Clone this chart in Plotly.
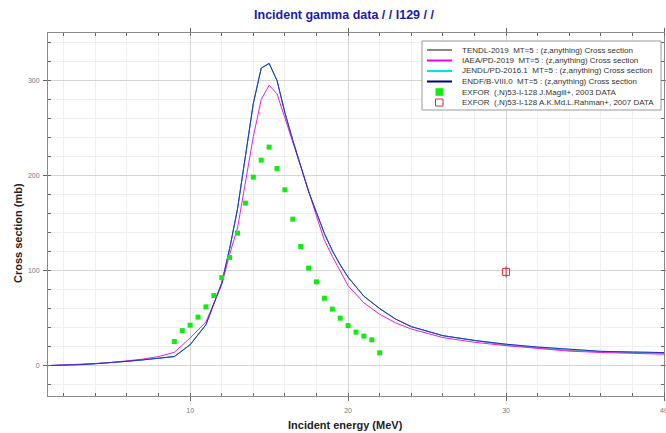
import plotly.graph_objects as go

# ---------------- data ----------------
endf_e = [1, 2, 3, 4, 5, 6, 7, 8, 9, 10, 11, 12, 12.5, 13, 13.5, 14, 14.5, 15, 15.5, 16,
          16.5, 17, 17.5, 18, 18.5, 19, 19.5, 20, 21, 22, 23, 24, 26, 28, 30, 32, 34, 36, 38, 40]
endf_xs = [0, 0.3, 1, 2, 3, 4.5, 6, 7.5, 9.5, 22, 43, 87, 123, 165, 222, 276, 313, 318, 300, 266,
           237, 209, 183, 161, 139, 121, 106, 93, 73, 60, 49, 41, 31.5, 26.5, 22.5, 19.5, 17, 15, 14.3, 13.7]

iaea_e = [1, 2, 3, 4, 5, 6, 7, 8, 9, 10, 11, 12, 12.5, 13, 13.5, 14, 14.5, 15, 15.5, 16,
          16.5, 17, 17.5, 18, 18.5, 19, 19.5, 20, 21, 22, 23, 24, 26, 28, 30, 32, 34, 36, 38, 40]
iaea_xs = [0, 0.5, 1.2, 2.2, 3.3, 4.8, 6.8, 9.5, 14, 29, 46, 85, 117, 145, 192, 241, 280, 295, 286, 261,
           236, 210, 184, 157, 132, 115, 99, 84, 66, 54, 45, 38.5, 29.5, 24.5, 21, 18, 15.2, 13.8, 12.8, 12]

tendl_e = [1, 2, 3, 4, 5, 6, 7, 8, 9, 10, 11, 12, 12.5, 13, 13.5, 14, 14.5, 15, 15.5, 16,
           16.5, 17, 17.5, 18, 18.5, 19, 19.5, 20, 21, 22, 23, 24, 26, 28, 30, 32, 34, 36, 38, 40]
tendl_xs = [0, 0.3, 1, 2, 3, 4.5, 6, 7.5, 9.5, 22, 43, 87, 123, 165, 222, 276, 313, 318, 300, 266,
            237, 209, 183, 161, 139, 121, 106, 93, 73, 60, 49, 41, 31.5, 26.5, 21.5, 18.5, 16, 14.5, 13.5, 12.8]

jendl_e = endf_e
jendl_xs = endf_xs

magill_e = [9, 9.5, 10, 10.5, 11, 11.5, 12, 12.5, 13, 13.5, 14, 14.5, 15, 15.5,
            16, 16.5, 17, 17.5, 18, 18.5, 19, 19.5, 20, 20.5, 21, 21.5, 22]
magill_xs = [25.3, 36.8, 42.5, 51, 61.8, 73.7, 92.6, 113.7, 139.4, 171, 198.3, 216.2, 229.9, 207.4,
             185, 154.1, 125.3, 102.6, 88.1, 70.9, 59.4, 49.9, 42.1, 35.2, 31, 27.1, 13.4]

rahman_e = [30]
rahman_xs = [98.6]
rahman_err = [6]

legend_labels = [
    "TENDL-2019  MT=5 : (z,anything) Cross section",
    "IAEA/PD-2019  MT=5 : (z,anything) Cross section",
    "JENDL/PD-2016.1  MT=5 : (z,anything) Cross section",
    "ENDF/B-VIII.0  MT=5 : (z,anything) Cross section",
    "EXFOR  (,N)53-I-128 J.Magill+, 2003 DATA",
    "EXFOR  (,N)53-I-128 A.K.Md.L.Rahman+, 2007 DATA",
]

# ---------------- layout geometry ----------------
W, H = 666, 433
ML, MR, MT, MB = 48, 2, 33, 37
FONT = "Arial, Liberation Sans, sans-serif"


def px(x):
    return (x - ML) / (W - ML - MR)


def py(y):
    return (H - MB - y) / (H - MT - MB)


fig = go.Figure()

fig.add_trace(go.Scatter(x=tendl_e, y=tendl_xs, mode="lines",
                         line=dict(color="#888888", width=1), name=legend_labels[0]))
fig.add_trace(go.Scatter(x=jendl_e, y=jendl_xs, mode="lines",
                         line=dict(color="#00e5e5", width=1), name=legend_labels[2]))
fig.add_trace(go.Scatter(x=iaea_e, y=iaea_xs, mode="lines",
                         line=dict(color="#e61ee6", width=1), name=legend_labels[1]))
fig.add_trace(go.Scatter(x=endf_e, y=endf_xs, mode="lines",
                         line=dict(color="#2e2eb8", width=1), name=legend_labels[3]))
fig.add_trace(go.Scatter(x=magill_e, y=magill_xs, mode="markers",
                         marker=dict(symbol="square", size=5, color="#10ec10"),
                         name=legend_labels[4]))
fig.add_trace(go.Scatter(x=rahman_e, y=rahman_xs, mode="markers",
                         marker=dict(symbol="square-open", size=7, color="#d83030",
                                     line=dict(width=1)),
                         error_y=dict(type="data", array=rahman_err, color="#d83030",
                                      thickness=1, width=0),
                         name=legend_labels[5]))

# ---------------- custom legend ----------------
shapes = []
annotations = []
bx0, bx1, by0, by1 = 422, 661, 41, 110
shapes.append(dict(type="rect", xref="paper", yref="paper",
                   x0=px(bx0), x1=px(bx1), y0=py(by1), y1=py(by0),
                   line=dict(color="#999999", width=1), fillcolor="white", layer="above"))
rows = [50, 60.5, 71, 81.5, 92, 102.5]
line_cols = ["#888888", "#ee00ee", "#00e5e5", "#000080"]
for i, c in enumerate(line_cols):
    shapes.append(dict(type="line", xref="paper", yref="paper",
                       x0=px(427), x1=px(452), y0=py(rows[i]), y1=py(rows[i]),
                       line=dict(color=c, width=2), layer="above"))
shapes.append(dict(type="rect", xref="paper", yref="paper",
                   x0=px(435.5), x1=px(443), y0=py(rows[4] + 3.8), y1=py(rows[4] - 3.8),
                   line=dict(color="#10ec10", width=0), fillcolor="#10ec10", layer="above"))
shapes.append(dict(type="rect", xref="paper", yref="paper",
                   x0=px(435.5), x1=px(443), y0=py(rows[5] + 3.5), y1=py(rows[5] - 3.5),
                   line=dict(color="#d83030", width=1), fillcolor="white", layer="above"))
for i, lab in enumerate(legend_labels):
    annotations.append(dict(text=lab, xref="paper", yref="paper", x=px(460), y=py(rows[i]),
                            xanchor="left", yanchor="middle", showarrow=False,
                            font=dict(family=FONT, size=8, color="#333333")))

# axis titles
annotations.append(dict(text="<b>Incident energy (MeV)</b>", xref="paper", yref="paper",
                        x=px(345), y=py(425), xanchor="center", yanchor="middle",
                        showarrow=False, font=dict(family=FONT, size=11, color="#222222")))
annotations.append(dict(text="<b>Cross section (mb)</b>", xref="paper", yref="paper",
                        x=px(18), y=py(233), xanchor="center", yanchor="middle",
                        textangle=-90, showarrow=False,
                        font=dict(family=FONT, size=11, color="#222222")))

axis_common = dict(
    showline=True, linecolor="#8a8a8a", linewidth=1, mirror="allticks",
    ticks="outside", ticklen=4, tickcolor="#666666",
    showgrid=True, gridcolor="#d4d4d4", gridwidth=1,
    zeroline=False, ticklabeloverflow="allow",
    tickfont=dict(family=FONT, size=7, color="#777777"),
)

fig.update_layout(
    width=W, height=H,
    margin=dict(l=ML, r=MR, t=MT, b=MB, autoexpand=False),
    paper_bgcolor="white", plot_bgcolor="white",
    showlegend=False,
    title=dict(text="<b>Incident gamma data / / I129 / /</b>", x=344 / W, xref="container",
               xanchor="center", y=1 - 15 / H, yanchor="middle",
               font=dict(family=FONT, size=12.5, color="#1c1ca8")),
    xaxis=dict(range=[1, 40], tickvals=[10, 20, 30, 40], ticklabelstandoff=4,
               minor=dict(dtick=2, tick0=0, ticks="inside", ticklen=3, tickcolor="#666666",
                          showgrid=True, gridcolor="#efefef"),
               **axis_common),
    yaxis=dict(range=[-32, 350], tickvals=[0, 100, 200, 300], ticklabelstandoff=2,
               minor=dict(dtick=20, tick0=0, ticks="inside", ticklen=3, tickcolor="#666666",
                          showgrid=True, gridcolor="#efefef"),
               **axis_common),
    shapes=shapes,
    annotations=annotations,
)

fig.write_html("out.html")
